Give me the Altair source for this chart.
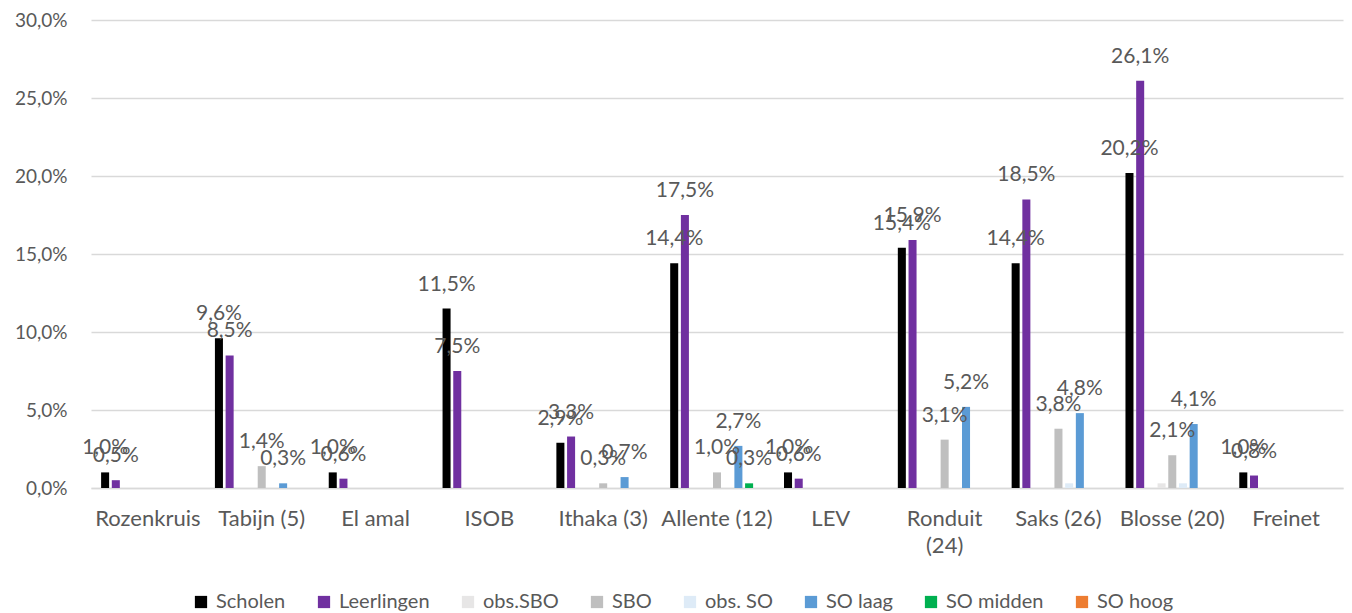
import altair as alt
import pandas as pd

categories = ["Rozenkruis", "Tabijn (5)", "El amal", "ISOB", "Ithaka (3)", "Allente (12)",
              "LEV", "Ronduit (24)", "Saks (26)", "Blosse (20)", "Freinet"]
series_names = ["Scholen", "Leerlingen", "obs.SBO", "SBO", "obs. SO", "SO laag", "SO midden", "SO hoog"]
series_colors = ["#000000", "#7030A0", "#E7E6E6", "#BFBFBF", "#DEEBF7", "#5B9BD5", "#00B050", "#ED7D31"]
# slot order inside each group (Excel keeps an empty slot after Leerlingen)
slot_order = ["Scholen", "Leerlingen", "_leeg", "obs.SBO", "SBO", "obs. SO", "SO laag", "SO midden", "SO hoog"]
unlabelled = ["obs.SBO", "obs. SO"]

scholen = [1.0, 9.6, 1.0, 11.5, 2.9, 14.4, 1.0, 15.4, 14.4, 20.2, 1.0]
leerlingen = [0.5, 8.5, 0.6, 7.5, 3.3, 17.5, 0.6, 15.9, 18.5, 26.1, 0.8]
obs_sbo = [0, 0, 0, 0, 0, 0, 0, 0, 0, 0.3, 0]
sbo = [0, 1.4, 0, 0, 0.3, 1.0, 0, 3.1, 3.8, 2.1, 0]
obs_so = [0, 0, 0, 0, 0, 0, 0, 0, 0.3, 0.3, 0]
so_laag = [0, 0.3, 0, 0, 0.7, 2.7, 0, 5.2, 4.8, 4.1, 0]
so_midden = [0, 0, 0, 0, 0, 0.3, 0, 0, 0, 0, 0]
so_hoog = [0, 0, 0, 0, 0, 0, 0, 0, 0, 0, 0]

series_values = [scholen, leerlingen, obs_sbo, sbo, obs_so, so_laag, so_midden, so_hoog]

rows = []
for name, vals in zip(series_names, series_values):
    for cat, v in zip(categories, vals):
        if v > 0:
            rows.append({"categorie": cat, "reeks": name, "waarde": v,
                         "label": name not in unlabelled})
df = pd.DataFrame(rows)

FONT = "Lato"
GREY_TXT = "#595959"

x_enc = alt.X("categorie:N", sort=categories, title=None,
              scale=alt.Scale(paddingInner=0.154, paddingOuter=0.077),
              axis=alt.Axis(labelAngle=0, ticks=False, domainColor="#d9d9d9", domainWidth=1.5,
                            labelFontSize=22, labelColor=GREY_TXT, labelFont=FONT,
                            labelPadding=20, labelLineHeight=27,
                            labelExpr="datum.value == 'Ronduit (24)' ? ['Ronduit', '(24)'] : datum.value"))
xo_enc = alt.XOffset("reeks:N", scale=alt.Scale(domain=slot_order, paddingInner=0.25, paddingOuter=0.125))
y_enc = alt.Y("waarde:Q", title=None,
              scale=alt.Scale(domain=[0, 30], nice=False),
              axis=alt.Axis(values=[0, 5, 10, 15, 20, 25, 30], ticks=False, domain=False,
                            gridColor="#d9d9d9", gridWidth=1.5,
                            labelFontSize=19, labelColor=GREY_TXT, labelFont=FONT, labelPadding=24,
                            labelExpr="replace(format(datum.value, '.1f'), '.', ',') + '%'"))

bars = alt.Chart(df).mark_bar().encode(
    x=x_enc,
    xOffset=xo_enc,
    y=y_enc,
    color=alt.Color("reeks:N",
                    scale=alt.Scale(domain=series_names, range=series_colors),
                    legend=alt.Legend(title=None, orient="none", direction="horizontal", columns=8,
                                      legendX=100, legendY=572,
                                      symbolType="square", symbolSize=150, symbolStrokeWidth=0,
                                      labelFontSize=20, labelFont=FONT, labelColor=GREY_TXT,
                                      labelOffset=5, columnPadding=28)),
)

labels = alt.Chart(df).transform_filter("datum.label").transform_calculate(
    txt="replace(format(datum.waarde, '.1f'), '.', ',') + '%'"
).mark_text(baseline="alphabetic", dy=-18, fontSize=21, font=FONT, color=GREY_TXT).encode(
    x=alt.X("categorie:N", sort=categories),
    xOffset=alt.XOffset("reeks:N"),
    y=alt.Y("waarde:Q"),
    text="txt:N",
)

chart = alt.layer(bars, labels).properties(
    width=1252, height=468,
    autosize=alt.AutoSizeParams(type="none"),
    padding={"left": 83, "top": 12, "right": 1, "bottom": 125},
).configure_view(stroke=None)

chart.save("out.html", embed_options={"renderer": "svg", "actions": False})
